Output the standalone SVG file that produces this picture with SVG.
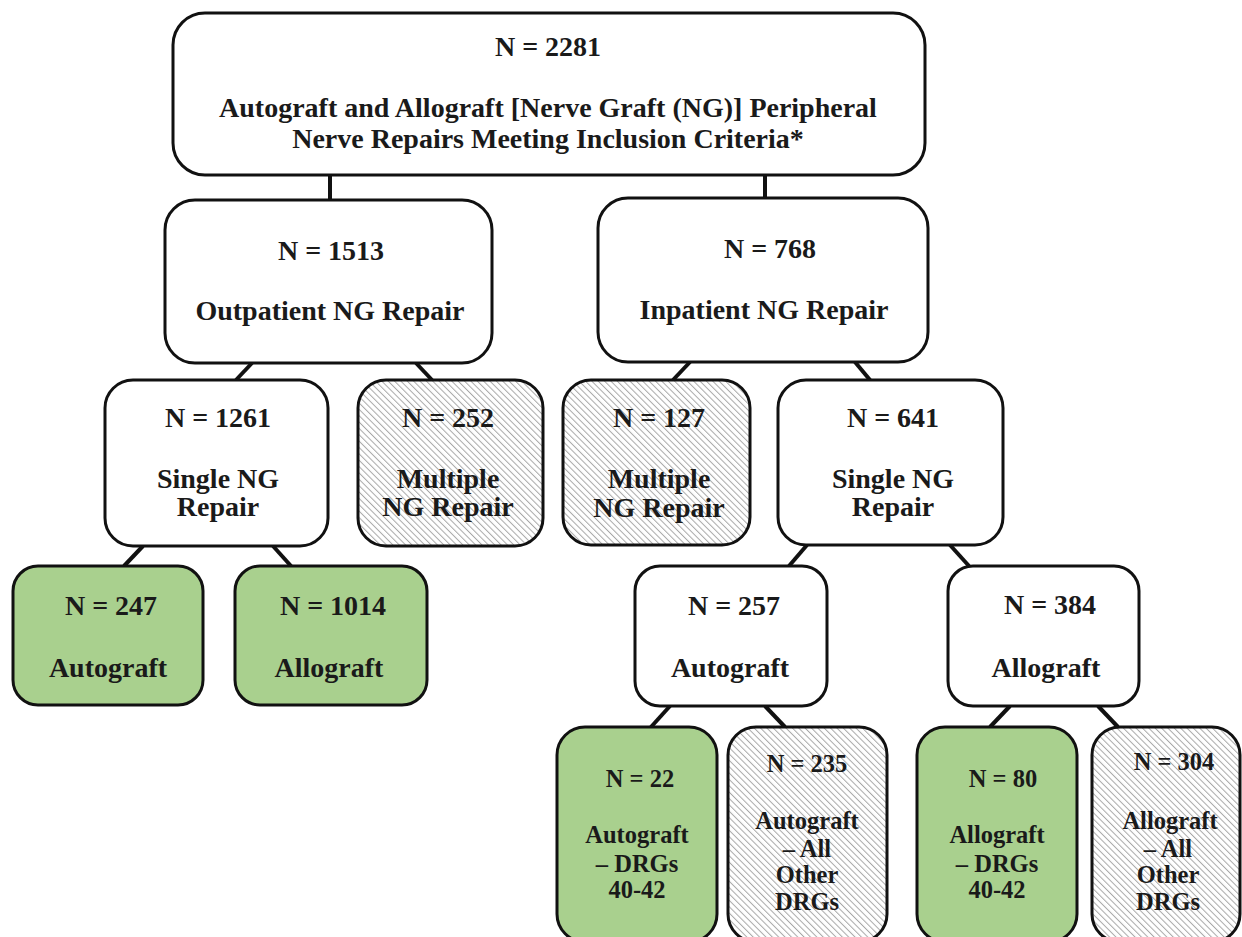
<svg xmlns="http://www.w3.org/2000/svg" width="1242" height="937" viewBox="0 0 1242 937">
<defs>
<pattern id="hatch" patternUnits="userSpaceOnUse" width="4.5" height="4.5" patternTransform="rotate(-45)">
<rect width="4.5" height="4.5" fill="#ffffff"/>
<line x1="0" y1="0" x2="0" y2="4.5" stroke="#a8a8a8" stroke-width="2"/>
</pattern>
</defs>
<style>
.box{stroke:#111;stroke-width:3;fill:#fff}
.green{fill:#a9d08e}
.hatch{fill:url(#hatch)}
text{font-family:"Liberation Serif","Times New Roman",serif;font-weight:bold;fill:#1a1a1a;text-anchor:middle;font-size:28px}
.sm{font-size:24.5px}
.conn line{stroke:#111;stroke-width:4}
</style>
<rect width="1242" height="937" fill="#fff"/>
<g id="connectors" class="conn">
<line x1="330" y1="175" x2="330" y2="200"/>
<line x1="765" y1="175" x2="765" y2="198"/>
<line x1="252" y1="363" x2="236" y2="380"/>
<line x1="416" y1="363" x2="432" y2="380"/>
<line x1="690" y1="362" x2="673" y2="380"/>
<line x1="855" y1="362" x2="870" y2="380"/>
<line x1="143" y1="546" x2="124" y2="566"/>
<line x1="273" y1="546" x2="291" y2="566"/>
<line x1="807" y1="545" x2="789" y2="566"/>
<line x1="950" y1="545" x2="969" y2="566"/>
<line x1="670" y1="706" x2="651" y2="727"/>
<line x1="765" y1="706" x2="785" y2="727"/>
<line x1="1010" y1="706" x2="990" y2="727"/>
<line x1="1098" y1="706" x2="1118" y2="727"/>
</g>
<g id="root">
<rect class="box" x="173" y="13" width="752" height="162" rx="32"/>
<text x="548" y="56">N = 2281</text>
<text x="548" y="117">Autograft and Allograft [Nerve Graft (NG)] Peripheral</text>
<text x="548" y="148">Nerve Repairs Meeting Inclusion Criteria*</text>
</g>
<g id="outpatient">
<rect class="box" x="165" y="200" width="327" height="163" rx="30"/>
<text x="331" y="260">N = 1513</text>
<text x="330" y="320">Outpatient NG Repair</text>
</g>
<g id="inpatient">
<rect class="box" x="598" y="198" width="330" height="164" rx="30"/>
<text x="770" y="258">N = 768</text>
<text x="764" y="319">Inpatient NG Repair</text>
</g>
<g id="single1261">
<rect class="box" x="105" y="380" width="223" height="166" rx="28"/>
<text x="218" y="427">N = 1261</text>
<text x="218" y="488">Single NG</text>
<text x="218" y="516">Repair</text>
</g>
<g id="multiple252">
<rect class="box hatch" x="358" y="380" width="185" height="166" rx="28"/>
<text x="448" y="427">N = 252</text>
<text x="448" y="488">Multiple</text>
<text x="448" y="516">NG Repair</text>
</g>
<g id="multiple127">
<rect class="box hatch" x="563" y="380" width="187" height="165" rx="28"/>
<text x="659" y="427">N = 127</text>
<text x="659" y="488">Multiple</text>
<text x="659" y="517">NG Repair</text>
</g>
<g id="single641">
<rect class="box" x="778" y="380" width="225" height="165" rx="28"/>
<text x="893" y="427">N = 641</text>
<text x="893" y="488">Single NG</text>
<text x="893" y="516">Repair</text>
</g>
<g id="autograft247">
<rect class="box green" x="13" y="566" width="190" height="139" rx="25"/>
<text x="111" y="615">N = 247</text>
<text x="108" y="677">Autograft</text>
</g>
<g id="allograft1014">
<rect class="box green" x="235" y="566" width="192" height="139" rx="25"/>
<text x="333" y="615">N = 1014</text>
<text x="329" y="677">Allograft</text>
</g>
<g id="autograft257">
<rect class="box" x="635" y="566" width="192" height="140" rx="25"/>
<text x="734" y="615">N = 257</text>
<text x="730" y="677">Autograft</text>
</g>
<g id="allograft384">
<rect class="box" x="948" y="566" width="191" height="140" rx="25"/>
<text x="1050" y="614">N = 384</text>
<text x="1046" y="677">Allograft</text>
</g>
<g id="autograft22">
<rect class="box green" x="557" y="727" width="160" height="215" rx="28"/>
<text class="sm" x="640" y="787">N = 22</text>
<text class="sm" x="637" y="843">Autograft</text>
<text class="sm" x="637" y="872">– DRGs</text>
<text class="sm" x="637" y="898">40-42</text>
</g>
<g id="autograft235">
<rect class="box hatch" x="728" y="727" width="159" height="215" rx="28"/>
<text class="sm" x="807" y="772">N = 235</text>
<text class="sm" x="807" y="829">Autograft</text>
<text class="sm" x="807" y="857">– All</text>
<text class="sm" x="807" y="883">Other</text>
<text class="sm" x="807" y="910">DRGs</text>
</g>
<g id="allograft80">
<rect class="box green" x="917" y="727" width="160" height="215" rx="28"/>
<text class="sm" x="1003" y="787">N = 80</text>
<text class="sm" x="997" y="843">Allograft</text>
<text class="sm" x="997" y="872">– DRGs</text>
<text class="sm" x="997" y="898">40-42</text>
</g>
<g id="allograft304">
<rect class="box hatch" x="1092" y="727" width="148" height="215" rx="28"/>
<text class="sm" x="1174" y="770">N = 304</text>
<text class="sm" x="1170" y="829">Allograft</text>
<text class="sm" x="1168" y="857">– All</text>
<text class="sm" x="1168" y="883">Other</text>
<text class="sm" x="1168" y="910">DRGs</text>
</g>
</svg>
